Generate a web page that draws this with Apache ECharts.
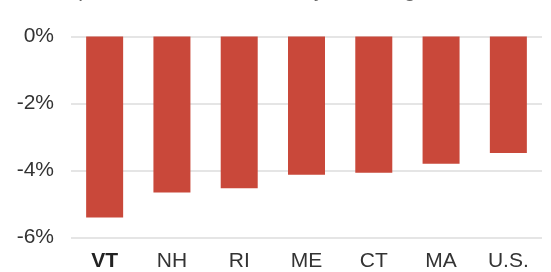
<!DOCTYPE html>
<html>
<head>
<meta charset="utf-8">
<script src="https://cdn.jsdelivr.net/npm/echarts@6/dist/echarts.min.js"></script>
<style>html,body{margin:0;padding:0;background:#fff;}#c{width:551px;height:272px;}</style>
</head>
<body>
<div id="c"></div>
<script>
const categories = ["VT", "NH", "RI", "ME", "CT", "MA", "U.S."];
const values = [-5.4, -4.66, -4.53, -4.13, -4.07, -3.8, -3.48];
const yTicks = [-6, -4, -2, 0];
const titleText = "Real output level, 2019 to 2022, by New England state";

const chart = echarts.init(document.getElementById('c'), null, {renderer: 'canvas'});
chart.setOption({
  animation: false,
  title: {
    text: titleText,
    left: 0,
    top: -19,
    padding: 0,
    textStyle: {fontFamily: 'Liberation Sans', fontSize: 21, fontWeight: 'normal', color: '#666'}
  },
  grid: {left: 71, right: 9, top: 36.5, bottom: 34.5},
  xAxis: {
    type: 'category',
    data: categories,
    position: 'bottom',
    axisLine: {show: false, onZero: false},
    axisTick: {show: false},
    axisLabel: {
      interval: 0,
      margin: 13,
      fontFamily: 'Liberation Sans',
      fontSize: 21,
      color: '#333',
      formatter: v => v === 'VT' ? '{b|' + v + '}' : v,
      rich: {b: {fontWeight: 'bold', fontFamily: 'Liberation Sans', fontSize: 21, color: '#222'}}
    }
  },
  yAxis: {
    type: 'value',
    min: yTicks[0],
    max: yTicks[yTicks.length - 1],
    interval: 2,
    axisLine: {show: false},
    axisTick: {show: false},
    splitLine: {lineStyle: {color: '#dcdcdc', width: 1.5}},
    axisLabel: {
      margin: 17,
      fontFamily: 'Liberation Sans',
      fontSize: 21,
      color: '#333',
      formatter: v => v + '%'
    }
  },
  series: [{
    type: 'bar',
    data: values,
    barWidth: 37,
    itemStyle: {color: '#c9483a'}
  }]
});
</script>
</body>
</html>
